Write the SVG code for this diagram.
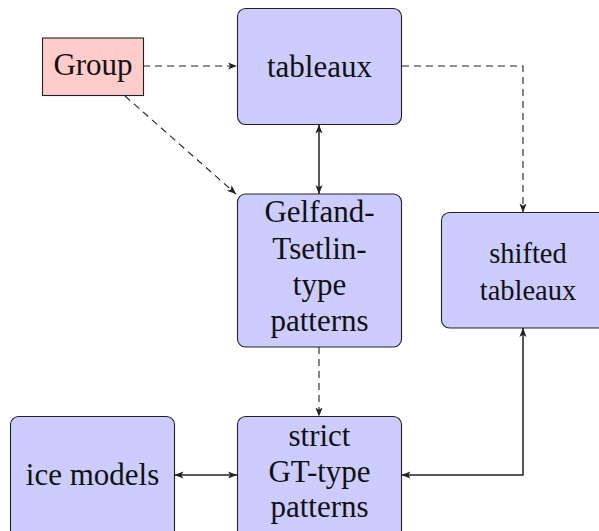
<svg xmlns="http://www.w3.org/2000/svg" width="599" height="531" viewBox="0 0 599 531">
<style>
.box{fill:#ccccff;stroke:#222;stroke-width:1.1}
.red{fill:#ffcccc;stroke:#222;stroke-width:1.1}
text{font-family:"Times New Roman",Tinos,"Liberation Serif","Noto Serif","DejaVu Serif",FreeSerif,serif;font-size:31px;fill:#111;text-anchor:middle}
.sm{font-size:28.5px}
.dash{fill:none;stroke:#222;stroke-width:1.1;stroke-dasharray:7 5}
.solid{fill:none;stroke:#222;stroke-width:1.5}
</style>
<defs>
<marker id="ah" viewBox="0 0 10 10" refX="10" refY="5" markerWidth="9" markerHeight="9" markerUnits="userSpaceOnUse" orient="auto-start-reverse">
<path d="M0,1 L10,5 L0,9 L2.5,5 Z" fill="#222"/>
</marker>
</defs>
<g id="connectors">
<path class="dash" d="M143,66 L237,66" marker-end="url(#ah)"/>
<path class="dash" d="M125,96 L236,194" marker-end="url(#ah)"/>
<path class="dash" d="M402,66 L523,66 L523,212.5" marker-end="url(#ah)"/>
<path class="solid" d="M319,124.5 L319,194" marker-start="url(#ah)" marker-end="url(#ah)"/>
<path class="dash" d="M319,347 L319,416.5" marker-end="url(#ah)"/>
<path class="solid" d="M174.5,475 L237,475" marker-start="url(#ah)" marker-end="url(#ah)"/>
<path class="solid" d="M523,328 L523,475 L401.5,475" marker-start="url(#ah)" marker-end="url(#ah)"/>
</g>
<g id="group">
<rect class="red" x="42.5" y="38" width="101" height="57.5"/>
<text x="93" y="75">Group</text>
</g>
<g id="tableaux">
<rect class="box" x="237.5" y="8.5" width="164" height="116" rx="8"/>
<text x="319.5" y="77">tableaux</text>
</g>
<g id="gelfand">
<rect class="box" x="237.5" y="194" width="164" height="153" rx="8"/>
<text x="319.5" y="222">Gelfand-</text>
<text x="319.5" y="259">Tsetlin-</text>
<text x="319.5" y="295">type</text>
<text x="319.5" y="331">patterns</text>
</g>
<g id="shifted">
<rect class="box" x="441.5" y="212.5" width="170" height="115.5" rx="8"/>
<text class="sm" x="528" y="263">shifted</text>
<text class="sm" x="528" y="300">tableaux</text>
</g>
<g id="strict">
<rect class="box" x="237.5" y="416.5" width="164" height="122" rx="8"/>
<text x="319.5" y="446">strict</text>
<text x="319.5" y="482">GT-type</text>
<text x="319.5" y="517">patterns</text>
</g>
<g id="ice">
<rect class="box" x="10.5" y="416.5" width="164" height="122" rx="8"/>
<text x="92.5" y="485">ice models</text>
</g>
</svg>
